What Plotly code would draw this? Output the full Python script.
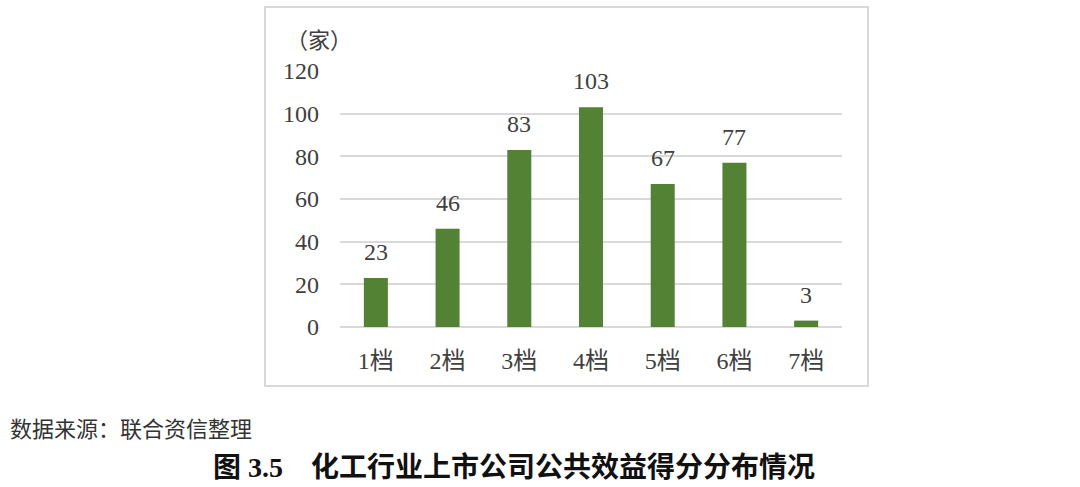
import plotly.graph_objects as go

# Score-band distribution of listed chemical companies
categories = ["1档", "2档", "3档", "4档", "5档", "6档", "7档"]
counts = [23, 46, 83, 103, 67, 77, 3]
y_ticks = [0, 20, 40, 60, 80, 100, 120]

W, H = 1080, 487
PLOT_L, PLOT_R, PLOT_T, PLOT_B = 340, 842, 71, 327
BOX_L, BOX_R, BOX_T, BOX_B = 265, 868, 7, 386

BAR_COLOR = "#548235"
GRID_COLOR = "#d9d9d9"
TEXT_COLOR = "#404040"
NUM_FONT = "Liberation Serif, Noto Sans CJK SC, serif"
CJK_FONT = "Noto Sans CJK SC, sans-serif"

pw, ph = PLOT_R - PLOT_L, PLOT_B - PLOT_T


def px_x(x):
    return (x - PLOT_L) / pw


def px_y(y):
    return (PLOT_B - y) / ph


fig = go.Figure(
    go.Bar(
        x=categories,
        y=counts,
        marker=dict(color=BAR_COLOR, line=dict(width=0)),
        width=0.335,
        hoverinfo="x+y",
    )
)

# value labels above each bar
for c, v in zip(categories, counts):
    fig.add_annotation(
        x=c, y=v, text=str(v), showarrow=False,
        yanchor="bottom", yshift=11,
        font=dict(family=NUM_FONT, size=24, color=TEXT_COLOR),
    )

# unit label
fig.add_annotation(
    xref="paper", yref="paper", x=px_x(284), y=px_y(40),
    xanchor="left", yanchor="middle", text="（家）", showarrow=False,
    font=dict(family=NUM_FONT, size=22, color=TEXT_COLOR),
)

# source note
fig.add_annotation(
    xref="paper", yref="paper", x=px_x(8), y=px_y(427),
    xanchor="left", yanchor="middle", text="数据来源：联合资信整理", showarrow=False,
    font=dict(family=CJK_FONT, size=22, color="#333333"),
)

# figure caption
fig.add_annotation(
    xref="paper", yref="paper", x=px_x(514), y=px_y(467),
    xanchor="center", yanchor="middle",
    text="<b>图 3.5　化工行业上市公司公共效益得分分布情况</b>", showarrow=False,
    font=dict(family="Liberation Serif, Noto Sans CJK SC, serif", size=28, color="#111111"),
)

# frame around the chart
fig.add_shape(
    type="rect", xref="paper", yref="paper",
    x0=px_x(BOX_L), x1=px_x(BOX_R), y0=px_y(BOX_B), y1=px_y(BOX_T),
    line=dict(color=GRID_COLOR, width=2), fillcolor="rgba(0,0,0,0)", layer="below",
)

fig.update_layout(
    width=W, height=H,
    margin=dict(l=PLOT_L, r=W - PLOT_R, t=PLOT_T, b=H - PLOT_B, pad=0),
    paper_bgcolor="white", plot_bgcolor="white",
    showlegend=False,
    bargap=0.665,
    xaxis=dict(
        showgrid=False, showline=False, zeroline=False, ticks="",
        tickfont=dict(family=NUM_FONT, size=24, color=TEXT_COLOR),
        ticklabelstandoff=17,
    ),
    yaxis=dict(
        range=[0, 120], tickvals=y_ticks,
        showgrid=True, gridcolor=GRID_COLOR, gridwidth=1.5,
        zeroline=True, zerolinecolor=GRID_COLOR, zerolinewidth=1.5,
        showline=False, ticks="",
        tickfont=dict(family=NUM_FONT, size=24, color=TEXT_COLOR),
        ticklabelstandoff=20,
    ),
)

fig.write_html("out.html")
